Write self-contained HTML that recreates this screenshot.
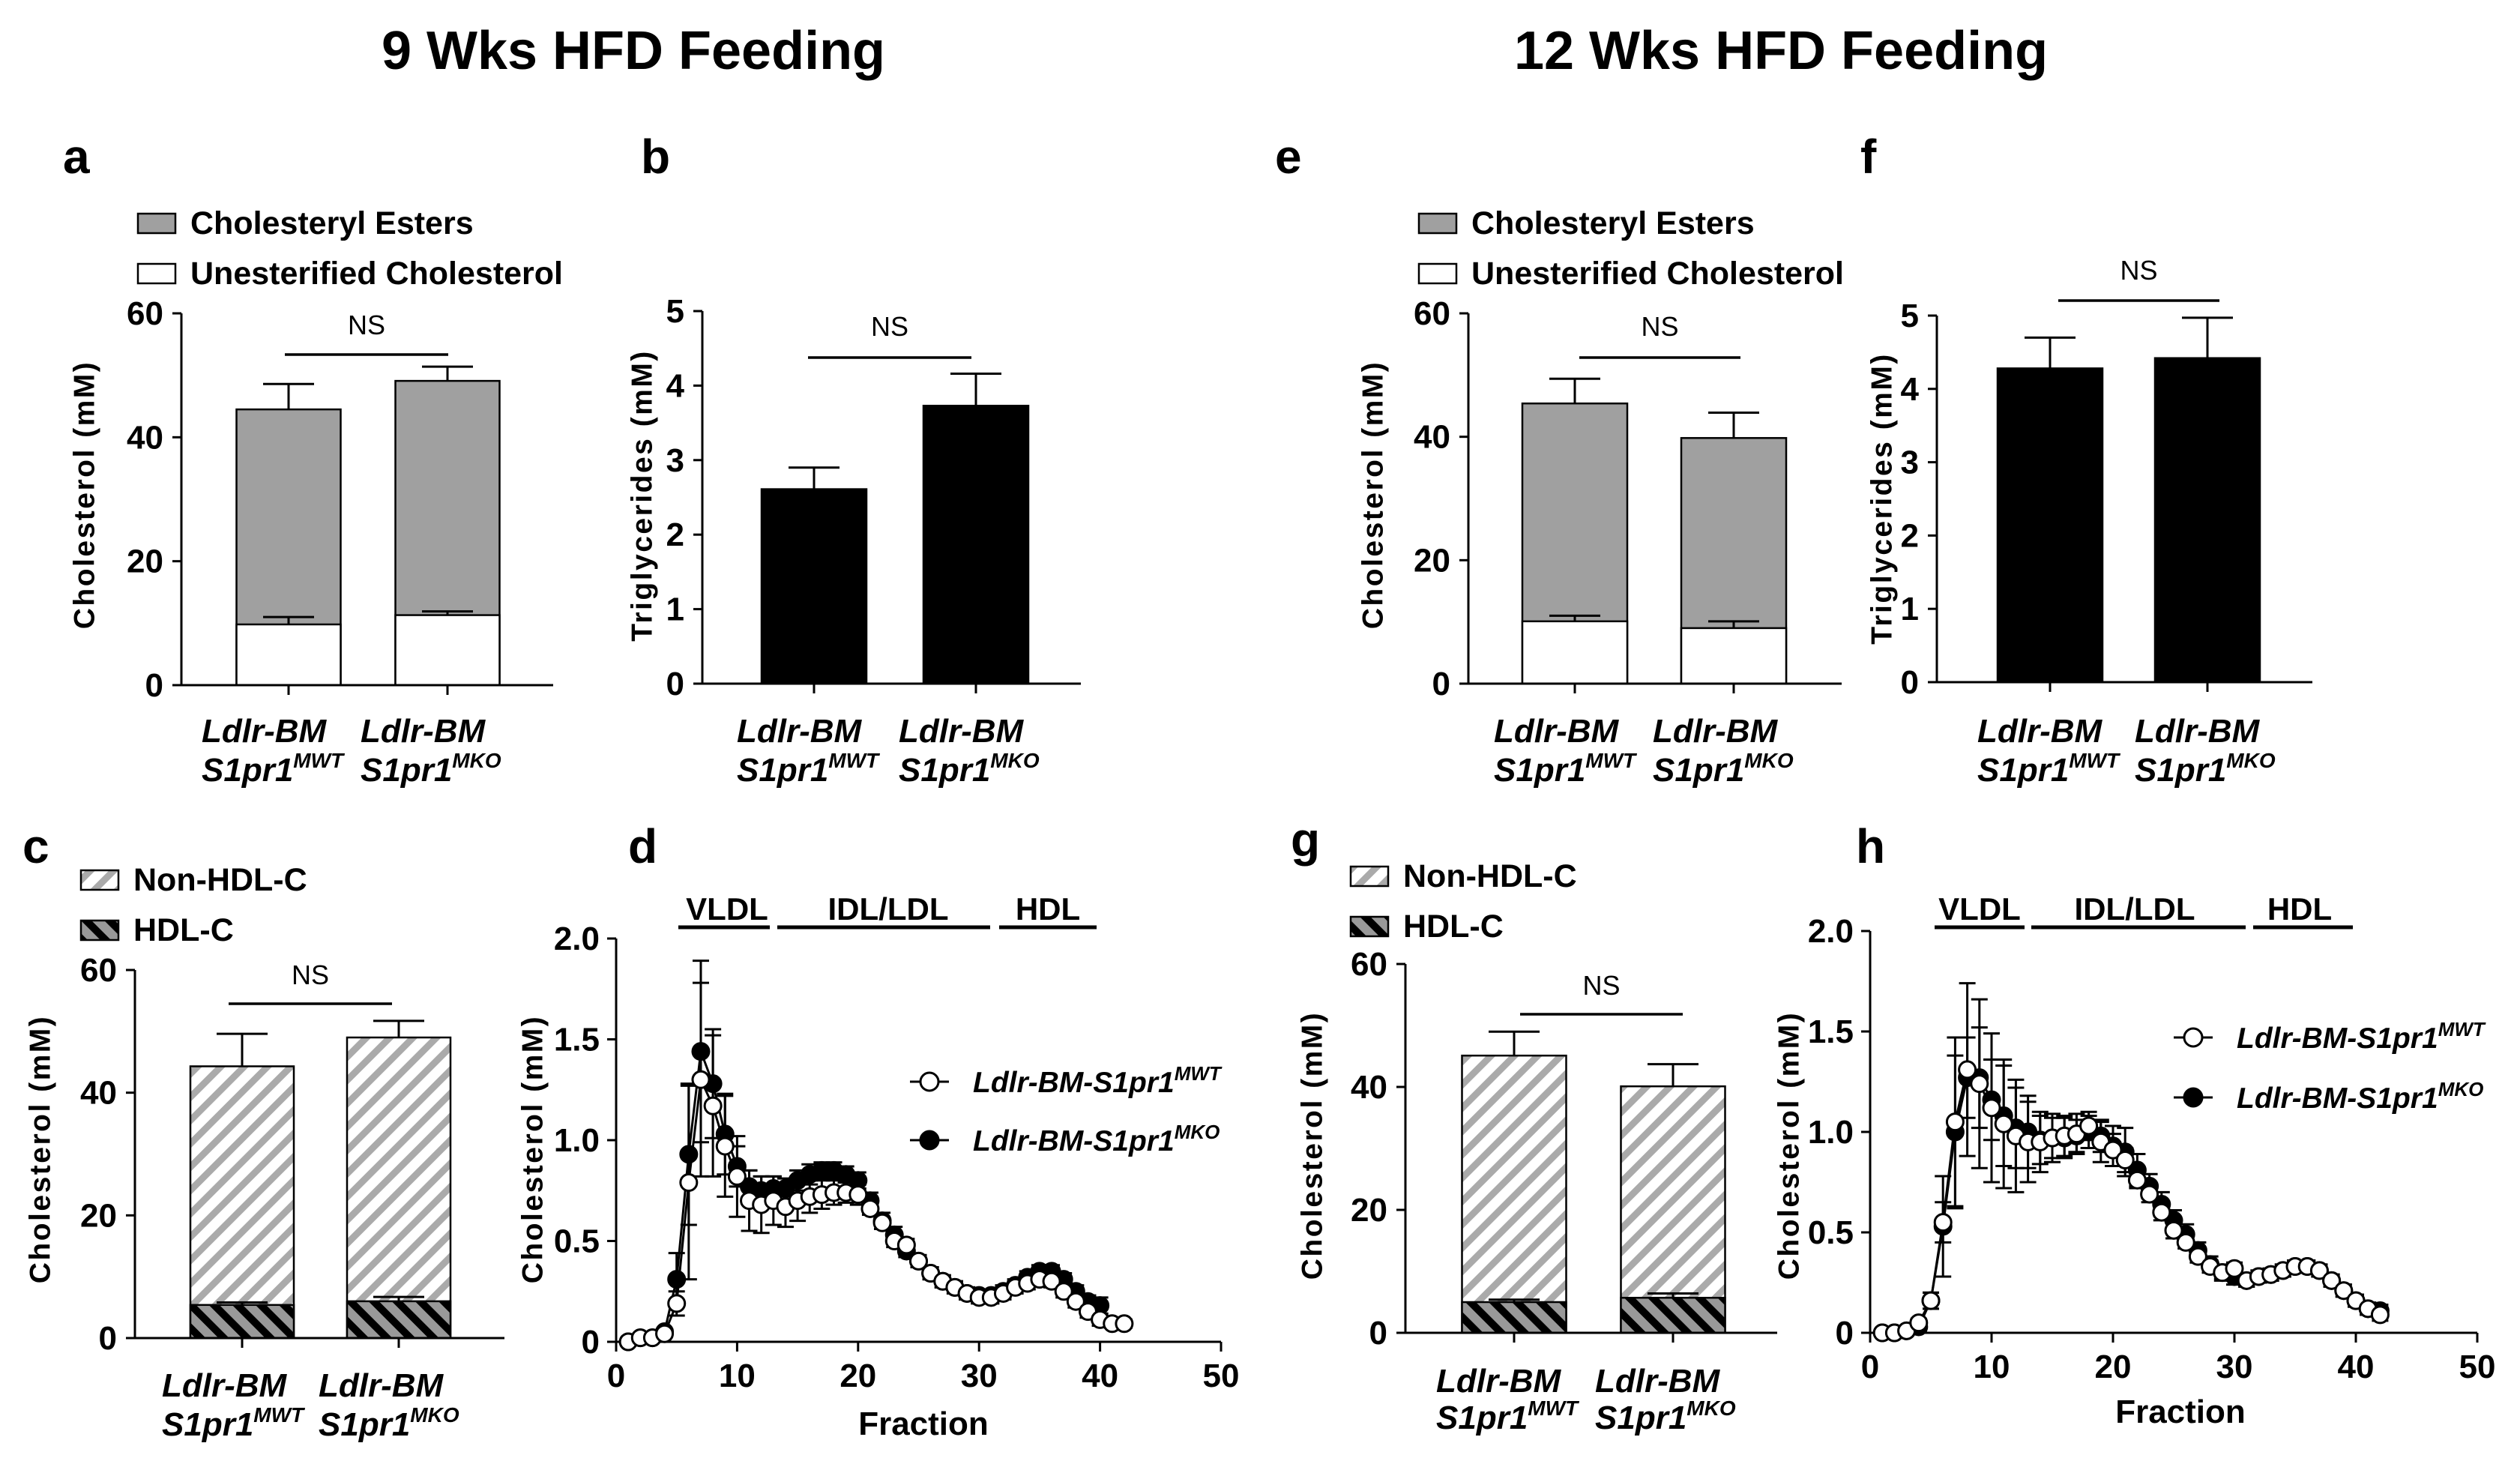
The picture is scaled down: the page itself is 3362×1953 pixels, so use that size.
<!DOCTYPE html>
<html><head><meta charset="utf-8"><style>
html,body{margin:0;padding:0;background:#fff;}
svg{display:block;font-family:"Liberation Sans",Arial,sans-serif;}
</style></head><body>
<svg id="fig" width="3362" height="1953" viewBox="0 0 3362 1953" xmlns="http://www.w3.org/2000/svg">
<defs>
<pattern id="hatchLight" patternUnits="userSpaceOnUse" width="22" height="22" patternTransform="rotate(45)">
<rect width="22" height="22" fill="#fff"/><rect x="0" y="0" width="9" height="22" fill="#aaaaaa"/>
</pattern>
<pattern id="hatchDark" patternUnits="userSpaceOnUse" width="22" height="22" patternTransform="rotate(-45)">
<rect width="22" height="22" fill="#999"/><rect x="0" y="0" width="10" height="22" fill="#000"/>
</pattern>
</defs>
<text x="845" y="92" font-size="72" font-weight="bold" text-anchor="middle">9 Wks HFD Feeding</text>
<text x="2376" y="92" font-size="72" font-weight="bold" text-anchor="middle">12 Wks HFD Feeding</text>
</svg>
<script>
// ---- data ----
const groupLine1 = ['Ldlr-BM','Ldlr-BM'];
const groupSup = ['MWT','MKO'];
const aCE = [44.5, 49.1];
const aCEerr = [4.1, 2.3];
const aUC = [9.8, 11.3];
const aUCerr = [1.2, 0.6];
const bTG = [2.61, 3.73];
const bTGerr = [0.29, 0.43];
const cNon = [44.3, 49.0];
const cNonErr = [5.3, 2.7];
const cHDL = [5.4, 6.0];
const cHDLErr = [0.4, 0.7];
const eCE = [45.4, 39.8];
const eCEerr = [4.0, 4.1];
const eUC = [10.1, 9.0];
const eUCerr = [0.9, 1.1];
const fTG = [4.28, 4.42];
const fTGerr = [0.42, 0.55];
const gNon = [45.1, 40.1];
const gNonErr = [3.9, 3.6];
const gHDL = [5.0, 5.7];
const gHDLErr = [0.4, 0.7];
const cholTicks = [0, 20, 40, 60];
const tgTicks = [0, 1, 2, 3, 4, 5];
const fpTicksY = ['0', '0.5', '1.0', '1.5', '2.0'];
const fpTicksX = [0, 10, 20, 30, 40, 50];

const dFracWT = [1,2,3,4,5,6,7,8,9,10,11,12,13,14,15,16,17,18,19,20,21,22,23,24,25,26,27,28,29,30,31,32,33,34,35,36,37,38,39,40,41,42];
const dWT = [0,0.02,0.02,0.04,0.19,0.79,1.30,1.17,0.97,0.82,0.70,0.68,0.70,0.67,0.70,0.72,0.73,0.74,0.74,0.73,0.66,0.59,0.50,0.48,0.40,0.34,0.30,0.27,0.24,0.22,0.22,0.24,0.27,0.29,0.31,0.30,0.25,0.20,0.15,0.11,0.09,0.09];
const dWTerr = [0.01,0.01,0.01,0.01,0.06,0.48,0.48,0.35,0.25,0.20,0.15,0.14,0.12,0.10,0.10,0.08,0.07,0.06,0.05,0.05,0.03,0.03,0.03,0.03,0.03,0.03,0.03,0.03,0.03,0.03,0.03,0.03,0.03,0.03,0.03,0.03,0.03,0.03,0.03,0.03,0.02,0.02];
const dFracKO = [1,2,3,4,5,6,7,8,9,10,11,12,13,14,15,16,17,18,19,20,21,22,23,24,25,26,27,28,29,30,31,32,33,34,35,36,37,38,39,40];
const dKO = [0,0.02,0.02,0.05,0.31,0.93,1.44,1.28,1.03,0.87,0.77,0.75,0.76,0.76,0.80,0.83,0.85,0.85,0.83,0.80,0.70,0.60,0.53,0.45,0.40,0.34,0.30,0.27,0.24,0.23,0.23,0.25,0.28,0.32,0.35,0.35,0.31,0.25,0.20,0.18];
const dKOerr = [0.01,0.01,0.01,0.01,0.13,0.35,0.45,0.27,0.20,0.10,0.08,0.07,0.06,0.05,0.05,0.05,0.04,0.04,0.04,0.04,0.04,0.04,0.04,0.03,0.03,0.03,0.03,0.03,0.03,0.03,0.03,0.03,0.03,0.03,0.03,0.03,0.03,0.03,0.03,0.04];

const hFrac = [1,2,3,4,5,6,7,8,9,10,11,12,13,14,15,16,17,18,19,20,21,22,23,24,25,26,27,28,29,30,31,32,33,34,35,36,37,38,39,40,41,42];
const hWT = [0,0,0.01,0.05,0.16,0.55,1.05,1.31,1.24,1.12,1.04,0.98,0.95,0.95,0.97,0.98,0.99,1.03,0.95,0.91,0.86,0.76,0.69,0.60,0.51,0.45,0.38,0.33,0.30,0.32,0.26,0.28,0.29,0.31,0.33,0.33,0.31,0.26,0.21,0.16,0.12,0.09];
const hWTerr = [0.01,0.01,0.01,0.02,0.04,0.10,0.42,0.43,0.42,0.37,0.32,0.28,0.20,0.15,0.12,0.10,0.10,0.07,0.10,0.08,0.06,0.04,0.04,0.04,0.04,0.03,0.03,0.03,0.03,0.03,0.03,0.03,0.03,0.03,0.03,0.03,0.03,0.03,0.03,0.03,0.03,0.03];
const hKO = [0,0,0.01,0.03,0.16,0.53,1.00,1.27,1.27,1.16,1.08,1.02,1.00,0.96,0.97,0.97,0.98,1.00,0.98,0.93,0.90,0.81,0.73,0.64,0.56,0.49,0.41,0.34,0.30,0.28,0.26,0.28,0.29,0.31,0.33,0.33,0.31,0.26,0.21,0.16,0.12,0.11];
const hKOerr = [0.01,0.01,0.01,0.02,0.04,0.25,0.38,0.20,0.25,0.20,0.25,0.20,0.18,0.12,0.10,0.10,0.08,0.08,0.08,0.10,0.12,0.08,0.06,0.06,0.05,0.05,0.04,0.04,0.04,0.04,0.03,0.03,0.03,0.03,0.03,0.03,0.03,0.03,0.03,0.03,0.03,0.03];

// ---- helpers ----
const NS = 'http://www.w3.org/2000/svg';
const svg = document.getElementById('fig');
function mk(tag, attrs, parent) {
  const el = document.createElementNS(NS, tag);
  for (const k in attrs) el.setAttribute(k, attrs[k]);
  (parent || svg).appendChild(el);
  return el;
}
function nm(el, name) {
  
  
  return el;
}
function txt(x, y, s, size, opts, parent) {
  const t = mk('text', Object.assign({x: x, y: y, 'font-size': size}, opts || {}), parent);
  t.textContent = s;
  return t;
}
function line(x1, y1, x2, y2, w, parent) {
  return mk('line', {x1: x1, y1: y1, x2: x2, y2: y2, stroke: '#000', 'stroke-width': w || 3}, parent);
}
function groupLabel(g, x, y1, y2, i) {
  const t1 = txt(x, y1, groupLine1[i], 44, {'font-weight': 'bold', 'font-style': 'italic'}, g);
  nm(t1, 'x-label-line1');
  const t2 = mk('text', {x: x, y: y2, 'font-size': 44, 'font-weight': 'bold', 'font-style': 'italic'}, g);
  nm(t2, 'x-label-line2');
  t2.appendChild(document.createTextNode('S1pr1'));
  const sp = document.createElementNS(NS, 'tspan');
  sp.setAttribute('font-size', '28');
  sp.setAttribute('dy', '-18');
  sp.textContent = groupSup[i];
  t2.appendChild(sp);
}
function ylabel(g, x, yc, s) {
  const t = txt(0, 0, s, 39, {'font-weight': 'bold', 'text-anchor': 'middle', 'letter-spacing': '2.5', transform: 'translate(' + x + ',' + yc + ') rotate(-90)', 'dominant-baseline': 'central'}, g);
  nm(t, 'y-axis-title');
}
function panelLetter(x, y, s) {
  const t = txt(x, y, s, 64, {'font-weight': 'bold'});
  nm(t, 'panel-letter-' + s);
}

// bar panel
function barPanel(c) {
  const g = mk('g', {});
  nm(g, c.name);
  const yS = v => c.y0 - (v / c.max) * (c.y0 - c.yTop);
  for (let i = 0; i < 2; i++) {
    const cx = c.centers[i], x = cx - c.bw / 2;
    const top = c.top[i];
    const eb = yS(top + c.topErr[i]);
    const e1 = line(cx, yS(top), cx, eb, 3, g); nm(e1, 'error-bar');
    const e2 = line(cx - 34, eb, cx + 34, eb, 3, g); nm(e2, 'error-cap');
    const r = mk('rect', {x: x, y: yS(top), width: c.bw, height: c.y0 - yS(top), fill: c.topFill, stroke: '#000', 'stroke-width': 2.5}, g);
    nm(r, 'bar-' + c.topKey + '-' + groupSup[i]);
    if (c.bot) {
      const b = c.bot[i];
      const r2 = mk('rect', {x: x, y: yS(b), width: c.bw, height: c.y0 - yS(b), fill: c.botFill, stroke: '#000', 'stroke-width': 2.5}, g);
      nm(r2, 'bar-' + c.botKey + '-' + groupSup[i]);
      const ebb = yS(b + c.botErr[i]);
      const e3 = line(cx, yS(b), cx, ebb, 3, g); nm(e3, 'error-bar');
      const e4 = line(cx - 34, ebb, cx + 34, ebb, 3, g); nm(e4, 'error-cap');
    }
    const tk = line(cx, c.y0, cx, c.y0 + 13, 3, g); nm(tk, 'x-tick');
    groupLabel(g, cx + c.labOff, c.lab1, c.lab2, i);
  }
  const ya = line(c.ax, c.y0, c.ax, c.yTop, 3, g); nm(ya, 'y-axis');
  const xa = line(c.ax - 12, c.y0, c.xEnd, c.y0, 3, g); nm(xa, 'x-axis');
  c.ticks.forEach(v => {
    const t = line(c.ax - 12, yS(v), c.ax, yS(v), 3, g); nm(t, 'y-tick');
    const l = txt(c.ax - 24, yS(v) + 15, String(v), 44, {'font-weight': 'bold', 'text-anchor': 'end'}, g);
    nm(l, 'y-tick-label');
  });
  const ns = line(c.ns[0], c.ns[2], c.ns[1], c.ns[2], 3.5, g); nm(ns, 'significance-line');
  const nt = txt((c.ns[0] + c.ns[1]) / 2, c.ns[3], 'NS', 36, {'text-anchor': 'middle'}, g); nm(nt, 'significance-label');
  ylabel(g, c.ylx, c.yly, c.ytitle);
}
function legendBox(x, y, fill, label, name) {
  const g = mk('g', {});
  nm(g, name);
  const r = mk('rect', {x: x, y: y, width: 50, height: 26, fill: fill, stroke: '#000', 'stroke-width': 2.5}, g);
  nm(r, 'legend-swatch');
  const t = txt(x + 70, y + 27, label, 43, {'font-weight': 'bold'}, g);
  nm(t, 'legend-label');
}

// line panel
function linePanel(c) {
  const g = mk('g', {});
  nm(g, c.name);
  const xS = v => c.ax + (v / 50) * (c.x50 - c.ax);
  const yS = v => c.y0 - (v / 2) * (c.y0 - c.yTop);
  const ya = line(c.ax, c.y0, c.ax, c.yTop, 3, g); nm(ya, 'y-axis');
  const xa = line(c.ax, c.y0, c.x50, c.y0, 3, g); nm(xa, 'x-axis');
  fpTicksY.forEach(s => {
    const v = parseFloat(s);
    const t = line(c.ax - 12, yS(v), c.ax, yS(v), 3, g); nm(t, 'y-tick');
    const l = txt(c.ax - 22, yS(v) + 15, s, 44, {'font-weight': 'bold', 'text-anchor': 'end'}, g); nm(l, 'y-tick-label');
  });
  fpTicksX.forEach(v => {
    const t = line(xS(v), c.y0, xS(v), c.y0 + 13, 3, g); nm(t, 'x-tick');
    const l = txt(xS(v), c.xlab, String(v), 44, {'font-weight': 'bold', 'text-anchor': 'middle'}, g); nm(l, 'x-tick-label');
  });
  const ft = txt(c.fracX, c.fracY, 'Fraction', 44, {'font-weight': 'bold', 'text-anchor': 'middle'}, g); nm(ft, 'x-axis-title');
  ylabel(g, c.ylx, c.yly, 'Cholesterol (mM)');
  c.bands.forEach(b => {
    const l = line(b[0], c.bandY, b[1], c.bandY, 5, g); nm(l, 'band-underline');
    const t = txt(b[2], c.bandY - 10, b[3], 42, {'font-weight': 'bold', 'text-anchor': 'middle'}, g); nm(t, 'band-label-' + b[3]);
  });
  function series(fr, vals, errs, fill, key) {
    const sg = mk('g', {}, g);
    nm(sg, 'series-' + key);
    const pts = fr.map((f, i) => xS(f) + ',' + yS(vals[i])).join(' ');
    const pl = mk('polyline', {points: pts, fill: 'none', stroke: '#000', 'stroke-width': 3}, sg);
    nm(pl, 'line-' + key);
    fr.forEach((f, i) => {
      const x = xS(f), y1 = yS(vals[i] + errs[i]), y2 = yS(Math.max(0, vals[i] - errs[i]));
      const e = line(x, y1, x, y2, 3, sg); nm(e, 'error-bar');
      const c1 = line(x - 11, y1, x + 11, y1, 3, sg); nm(c1, 'error-cap');
      const c2 = line(x - 11, y2, x + 11, y2, 3, sg); nm(c2, 'error-cap');
    });
    fr.forEach((f, i) => {
      const p = mk('circle', {cx: xS(f), cy: yS(vals[i]), r: 11, fill: fill, stroke: '#000', 'stroke-width': 3}, sg);
      nm(p, 'point-' + key);
    });
  }
  series(c.frKO, c.ko, c.koErr, '#000', 'MKO');
  series(c.frWT, c.wt, c.wtErr, '#fff', 'MWT');
  [['MWT', '#fff', c.legY[0]], ['MKO', '#000', c.legY[1]]].forEach(L => {
    const lg = mk('g', {}, g);
    nm(lg, 'legend-entry-' + L[0]);
    const l = line(c.legX - 26, L[2], c.legX + 26, L[2], 3, lg); nm(l, 'legend-line');
    const p = mk('circle', {cx: c.legX, cy: L[2], r: 12, fill: L[1], stroke: '#000', 'stroke-width': 3}, lg); nm(p, 'legend-marker');
    const t = mk('text', {x: c.legX + 58, y: L[2] + 14, 'font-size': 39, 'font-weight': 'bold', 'font-style': 'italic'}, lg);
    nm(t, 'legend-label');
    t.appendChild(document.createTextNode('Ldlr-BM-S1pr1'));
    const sp = document.createElementNS(NS, 'tspan');
    sp.setAttribute('font-size', '26');
    sp.setAttribute('dy', '-16');
    sp.textContent = L[0];
    t.appendChild(sp);
  });
}

// ---- panels ----
panelLetter(84, 231, 'a'); panelLetter(855, 231, 'b');
panelLetter(1701, 231, 'e'); panelLetter(2482, 231, 'f');
panelLetter(30, 1151, 'c'); panelLetter(838, 1151, 'd');
panelLetter(1722, 1142, 'g'); panelLetter(2476, 1151, 'h');

legendBox(184, 285, '#a0a0a0', 'Cholesteryl Esters', 'legend-ce-a');
legendBox(184, 352, '#fff', 'Unesterified Cholesterol', 'legend-uc-a');
legendBox(1893, 285, '#a0a0a0', 'Cholesteryl Esters', 'legend-ce-e');
legendBox(1893, 352, '#fff', 'Unesterified Cholesterol', 'legend-uc-e');
legendBox(108, 1161, 'url(#hatchLight)', 'Non-HDL-C', 'legend-nonhdl-c');
legendBox(108, 1228, 'url(#hatchDark)', 'HDL-C', 'legend-hdl-c');
legendBox(1802, 1156, 'url(#hatchLight)', 'Non-HDL-C', 'legend-nonhdl-g');
legendBox(1802, 1223, 'url(#hatchDark)', 'HDL-C', 'legend-hdl-g');

barPanel({name: 'panel-a', ax: 242, y0: 914, yTop: 418, max: 60, xEnd: 738, centers: [385, 597], bw: 139,
  top: aCE, topErr: aCEerr, topFill: '#a0a0a0', topKey: 'ce', bot: aUC, botErr: aUCerr, botFill: '#fff', botKey: 'uc',
  ticks: cholTicks, ns: [380, 598, 473, 446], ylx: 113, yly: 660, ytitle: 'Cholesterol (mM)', labOff: -116, lab1: 990, lab2: 1042});
barPanel({name: 'panel-b', ax: 937, y0: 912, yTop: 415, max: 5, xEnd: 1442, centers: [1086, 1302], bw: 140,
  top: bTG, topErr: bTGerr, topFill: '#000', topKey: 'tg', ticks: tgTicks, ns: [1078, 1296, 477, 448],
  ylx: 857, yly: 661, ytitle: 'Triglycerides (mM)', labOff: -103, lab1: 990, lab2: 1042});
barPanel({name: 'panel-c', ax: 180, y0: 1785, yTop: 1294, max: 60, xEnd: 673, centers: [323, 532], bw: 138,
  top: cNon, topErr: cNonErr, topFill: 'url(#hatchLight)', topKey: 'nonhdl', bot: cHDL, botErr: cHDLErr, botFill: 'url(#hatchDark)', botKey: 'hdl',
  ticks: cholTicks, ns: [305, 523, 1339, 1313], ylx: 54, yly: 1533, ytitle: 'Cholesterol (mM)', labOff: -107, lab1: 1863, lab2: 1915});
barPanel({name: 'panel-e', ax: 1959, y0: 912, yTop: 418, max: 60, xEnd: 2457, centers: [2101, 2313], bw: 140,
  top: eCE, topErr: eCEerr, topFill: '#a0a0a0', topKey: 'ce', bot: eUC, botErr: eUCerr, botFill: '#fff', botKey: 'uc',
  ticks: cholTicks, ns: [2107, 2322, 477, 448], ylx: 1832, yly: 660, ytitle: 'Cholesterol (mM)', labOff: -108, lab1: 990, lab2: 1042});
barPanel({name: 'panel-f', ax: 2584, y0: 910, yTop: 421, max: 5, xEnd: 3085, centers: [2735, 2945], bw: 140,
  top: fTG, topErr: fTGerr, topFill: '#000', topKey: 'tg', ticks: tgTicks, ns: [2746, 2961, 401, 373],
  ylx: 2511, yly: 665, ytitle: 'Triglycerides (mM)', labOff: -97, lab1: 990, lab2: 1042});
barPanel({name: 'panel-g', ax: 1875, y0: 1778, yTop: 1286, max: 60, xEnd: 2371, centers: [2020, 2232], bw: 139,
  top: gNon, topErr: gNonErr, topFill: 'url(#hatchLight)', topKey: 'nonhdl', bot: gHDL, botErr: gHDLErr, botFill: 'url(#hatchDark)', botKey: 'hdl',
  ticks: cholTicks, ns: [2028, 2245, 1353, 1327], ylx: 1751, yly: 1528, ytitle: 'Cholesterol (mM)', labOff: -104, lab1: 1857, lab2: 1906});

linePanel({name: 'panel-d', ax: 822, y0: 1790, yTop: 1252, x50: 1629, xlab: 1850, fracX: 1232, fracY: 1914, ylx: 711, yly: 1533,
  bandY: 1237, bands: [[905, 1027, 970, 'VLDL'], [1037, 1321, 1185, 'IDL/LDL'], [1333, 1463, 1398, 'HDL']],
  frWT: dFracWT, wt: dWT, wtErr: dWTerr, frKO: dFracKO, ko: dKO, koErr: dKOerr, legX: 1240, legY: [1443, 1521]});
linePanel({name: 'panel-h', ax: 2495, y0: 1778, yTop: 1242, x50: 3305, xlab: 1838, fracX: 2909, fracY: 1898, ylx: 2387, yly: 1528,
  bandY: 1237, bands: [[2581, 2701, 2641, 'VLDL'], [2710, 2996, 2848, 'IDL/LDL'], [3006, 3139, 3068, 'HDL']],
  frWT: hFrac, wt: hWT, wtErr: hWTerr, frKO: hFrac, ko: hKO, koErr: hKOerr, legX: 2926, legY: [1384, 1464]});
</script>
</body></html>
